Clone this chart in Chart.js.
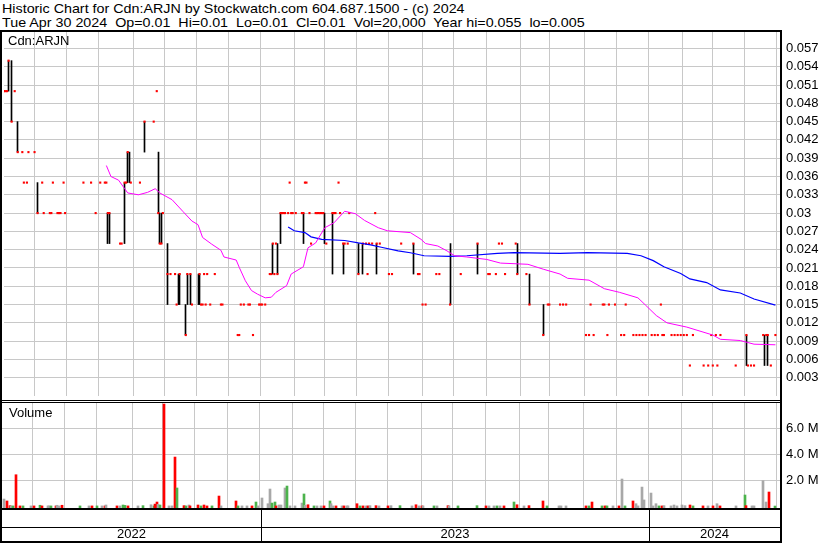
<!DOCTYPE html>
<html>
<head>
<meta charset="utf-8">
<script src="https://cdn.jsdelivr.net/npm/chart.js@4.4.1/dist/chart.umd.min.js"></script>
<style>
  body { margin: 0; background: #fff; font-family: Arial, "Liberation Sans", sans-serif; }
  #wrap { position: relative; width: 830px; height: 543px; overflow: hidden; }
  .txt { position: absolute; font-size: 13px; line-height: 14px; white-space: pre; color: #000; }
  .hdr { transform: scaleX(1.1); transform-origin: 0 0; }
  .ln { position: absolute; background: #000; }
  canvas { position: absolute; left: 0; }
</style>
</head>
<body>
<div id="wrap">
  <div class="txt hdr" style="left:2px; top:2px;">Historic Chart for Cdn:ARJN by Stockwatch.com 604.687.1500 - (c) 2024</div>
  <div class="txt hdr" style="left:2px; top:16px;">Tue Apr 30 2024  Op=0.01  Hi=0.01  Lo=0.01  Cl=0.01  Vol=20,000  Year hi=0.055  lo=0.005</div>
  <canvas id="price" width="830" height="400" style="top:0"></canvas>
  <canvas id="volume" width="830" height="105" style="top:403px"></canvas>
  <div class="txt" style="left:8px; top:34px;">Cdn:ARJN</div>
  <div class="txt" style="left:9px; top:406px;">Volume</div>
  <div class="ln" style="left:0; top:30px; width:782px; height:2px;"></div>
  <div class="ln" style="left:0; top:30px; width:2px; height:513px;"></div>
  <div class="ln" style="left:780px; top:30px; width:2px; height:513px;"></div>
  <div class="ln" style="left:0; top:400px; width:782px; height:1px;"></div>
  <div class="ln" style="left:0; top:402px; width:782px; height:1px;"></div>
  <div class="ln" style="left:0; top:508px; width:782px; height:2px;"></div>
  <div class="ln" style="left:0; top:527px; width:782px; height:1px;"></div>
  <div class="ln" style="left:0; top:541px; width:782px; height:2px;"></div>
  <div id="years"></div>
</div>
<script>
Chart.defaults.font.family = "Arial, 'Liberation Sans', sans-serif";

// x axis = trading day index, day 0 = 2 May 2022
const monthStart = [20, 41, 62, 85, 105, 126, 147, 168, 190, 210, 231, 252, 274, 294, 316, 338, 357, 380, 401, 422, 444, 464, 485, 506];
const yearStart = [0, 168, 422];
const yearLabel = ["2022", "2023", "2024"];
const lastDay = 508;

const priceTicks = [0.003, 0.006, 0.009, 0.012, 0.015, 0.018, 0.021, 0.024, 0.027, 0.03,
  0.033, 0.036, 0.039, 0.042, 0.045, 0.048, 0.051, 0.054, 0.057];
const volTicks = [2000000, 4000000, 6000000];

// high / low bars
const barDay = [3, 5, 9, 22, 68, 69, 79, 81, 82, 92, 101, 102, 103, 107, 114, 115, 119, 120, 122, 127, 128,
  176, 179, 181, 196, 210, 215, 222, 232, 235, 244, 268, 292, 310, 336, 344, 353, 486, 498, 500];
const barLow = [0.05, 0.045, 0.04, 0.03, 0.025, 0.025, 0.025, 0.035, 0.035, 0.04, 0.03, 0.025, 0.025, 0.015, 0.015, 0.015, 0.01, 0.015, 0.015, 0.015, 0.015,
  0.02, 0.02, 0.025, 0.025, 0.025, 0.02, 0.02, 0.02, 0.02, 0.02, 0.02, 0.015, 0.02, 0.02, 0.015, 0.01, 0.005, 0.005, 0.005];
const barHigh = [0.055, 0.055, 0.045, 0.035, 0.03, 0.03, 0.035, 0.04, 0.04, 0.045, 0.04, 0.03, 0.03, 0.025, 0.02, 0.02, 0.015, 0.02, 0.02, 0.02, 0.02,
  0.025, 0.025, 0.03, 0.03, 0.03, 0.03, 0.025, 0.025, 0.025, 0.025, 0.025, 0.025, 0.025, 0.025, 0.02, 0.015, 0.01, 0.01, 0.01];

// closing prices
const closeDay = [0, 1, 2, 3, 5, 7, 9, 12, 13, 15, 16, 20, 22, 25, 26, 30, 31, 32, 35, 36, 37, 39, 40, 52, 57, 60,
  63, 66, 67, 68, 69, 76, 77, 79, 80, 81, 83, 89, 92, 98, 100, 101, 102, 103, 104, 107, 109, 112, 113, 115,
  119, 120, 122, 123, 128, 129, 130, 131, 132, 133, 135, 138, 142, 143, 153, 154, 155, 157, 160, 161, 163,
  167, 168, 169, 171, 174, 175, 176, 177, 178, 179, 181, 182, 183, 184, 186, 187, 188, 189, 191, 195, 196,
  197, 198, 200, 201, 204, 205, 206, 207, 208, 209, 211, 215, 216, 217, 219, 220, 222, 223, 225, 226, 232,
  235, 237, 238, 239, 241, 243, 244, 246, 252, 254, 260, 268, 271, 272, 274, 276, 283, 285, 292, 299, 310,
  317, 318, 322, 324, 326, 328, 335, 336, 342, 344, 353, 356, 357, 364, 366, 368, 381, 383, 384, 386, 392,
  393, 395, 396, 400, 404, 406, 407, 412, 414, 416, 418, 420, 424, 426, 428, 430, 431, 432, 437, 439, 441,
  443, 445, 447, 449, 451, 458, 461, 463, 464, 466, 467, 469, 479, 486, 487, 489, 491, 497, 499, 500, 502, 505];
const closePrice = [0.05, 0.05, 0.05, 0.055, 0.045, 0.05, 0.04, 0.04, 0.035, 0.035, 0.04, 0.04, 0.03, 0.035, 0.03, 0.03, 0.03, 0.035, 0.03, 0.03, 0.03, 0.035, 0.03, 0.035, 0.035, 0.03,
  0.035, 0.035, 0.035, 0.03, 0.03, 0.025, 0.025, 0.035, 0.035, 0.04, 0.035, 0.035, 0.045, 0.045, 0.05, 0.03, 0.025, 0.025, 0.03, 0.02, 0.02, 0.02, 0.015, 0.02,
  0.01, 0.02, 0.02, 0.015, 0.02, 0.015, 0.015, 0.02, 0.015, 0.02, 0.015, 0.02, 0.015, 0.015, 0.01, 0.01, 0.015, 0.015, 0.015, 0.015, 0.01,
  0.015, 0.015, 0.015, 0.015, 0.02, 0.02, 0.025, 0.02, 0.025, 0.02, 0.03, 0.03, 0.03, 0.03, 0.03, 0.035, 0.03, 0.03, 0.03, 0.03, 0.03,
  0.035, 0.035, 0.03, 0.025, 0.03, 0.03, 0.03, 0.03, 0.03, 0.03, 0.025, 0.03, 0.03, 0.03, 0.035, 0.03, 0.025, 0.025, 0.025, 0.03, 0.02,
  0.025, 0.025, 0.02, 0.025, 0.025, 0.03, 0.025, 0.025, 0.02, 0.02, 0.025, 0.025, 0.02, 0.02, 0.015, 0.015, 0.02, 0.02, 0.015, 0.02, 0.025,
  0.02, 0.02, 0.02, 0.025, 0.025, 0.02, 0.025, 0.02, 0.02, 0.015, 0.01, 0.015, 0.015, 0.015, 0.015, 0.015, 0.01, 0.01, 0.015, 0.01, 0.015,
  0.015, 0.01, 0.015, 0.015, 0.01, 0.01, 0.015, 0.01, 0.01, 0.01, 0.01, 0.01, 0.01, 0.01, 0.01, 0.015, 0.01, 0.01, 0.01, 0.01, 0.01,
  0.01, 0.01, 0.01, 0.005, 0.01, 0.005, 0.005, 0.01, 0.005, 0.01, 0.005, 0.01, 0.005, 0.01, 0.005, 0.005, 0.005, 0.01, 0.01, 0.01, 0.005, 0.01];

// moving averages
const fastMaDay = [67, 70, 75, 79, 81, 88, 94, 99, 102, 110, 117, 123, 127, 130, 136, 142, 144, 152, 154, 158, 162, 166, 171, 175, 178, 185, 188,
  196, 199, 204, 210, 216, 223, 230, 236, 245, 251, 266, 273, 276, 284, 290, 295, 303, 316, 325, 343, 353, 364, 369, 383, 393, 403, 415, 420,
  427, 434, 447, 464, 469, 482, 491, 505];
const fastMaValue = [0.0378, 0.036, 0.0354, 0.034, 0.0333, 0.033, 0.0334, 0.034, 0.0333, 0.0322, 0.0303, 0.0287, 0.0281, 0.026, 0.0249, 0.0239, 0.0228,
  0.0223, 0.0211, 0.0189, 0.0173, 0.0167, 0.0161, 0.0162, 0.017, 0.0181, 0.02, 0.0212, 0.0243, 0.0251, 0.0276, 0.0284, 0.0303, 0.0299, 0.0288,
  0.0276, 0.0271, 0.0268, 0.0257, 0.025, 0.0246, 0.0238, 0.023, 0.0228, 0.0224, 0.0218, 0.0216, 0.0208, 0.02, 0.0193, 0.019, 0.0176, 0.017,
  0.0161, 0.0149, 0.0132, 0.012, 0.0113, 0.01, 0.0093, 0.0091, 0.0085, 0.0084];
const slowMaDay = [186, 190, 197, 201, 208, 223, 232, 240, 247, 258, 266, 275, 292, 303, 323, 334, 364, 382, 408, 417, 425, 432, 443, 449, 460,
  469, 482, 491, 505];
const slowMaValue = [0.0277, 0.0271, 0.0268, 0.0261, 0.0257, 0.0255, 0.0251, 0.0248, 0.0244, 0.0238, 0.0235, 0.023, 0.0229, 0.023, 0.0234,
  0.0235, 0.0234, 0.0235, 0.0234, 0.023, 0.0222, 0.0212, 0.0201, 0.0192, 0.0186, 0.0174, 0.0169, 0.0159, 0.0149];

// volume (shares) and direction of the day: 1 up, -1 down, 0 unchanged
const volDay = [1, 3, 5, 6, 7, 9, 12, 14, 19, 21, 25, 26, 30, 31, 32, 35, 36, 37, 39, 51, 57, 59, 62, 65, 67, 68, 75, 77, 79, 80, 82, 89,
  92, 97, 99, 100, 101, 102, 103, 106, 109, 111, 113, 114, 119, 120, 122, 123, 128, 130, 132, 134, 137, 142, 143, 153, 154, 157, 160, 163,
  166, 167, 170, 174, 175, 176, 178, 179, 181, 182, 185, 186, 188, 191, 196, 197, 198, 200, 204, 206, 208, 210, 214, 215, 216, 218, 222,
  223, 225, 226, 232, 234, 236, 238, 239, 240, 244, 246, 252, 254, 260, 268, 270, 272, 274, 275, 282, 284, 291, 292, 298, 310, 316, 318,
  321, 323, 325, 328, 334, 336, 341, 344, 353, 356, 364, 365, 368, 381, 383, 385, 392, 394, 395, 399, 403, 405, 407, 412, 414, 415, 418,
  419, 424, 425, 427, 429, 431, 432, 437, 439, 441, 444, 446, 449, 451, 458, 461, 464, 467, 469, 479, 485, 486, 490, 491, 497, 499, 501, 505];
const volValue = [560000, 410000, 50000, 30000, 30000, 2430000, 30000, 30000, 30000, 30000, 80000, 30000, 30000, 30000, 30000, 30000, 80000, 30000,
  80000, 30000, 30000, 30000, 30000, 30000, 30000, 100000, 30000, 30000, 100000, 70000, 30000, 30000,
  50000, 120000, 30000, 170000, 330000, 150000, 100000, 7870000, 30000, 30000, 3790000, 1410000, 50000, 30000, 100000, 30000, 100000, 30000,
  100000, 30000, 30000, 790000, 30000, 410000, 30000, 30000, 30000, 30000,
  330000, 30000, 640000, 200000, 1330000, 250000, 330000, 30000, 100000, 100000, 1410000, 1560000, 30000, 30000, 250000, 950000, 80000,
  120000, 30000, 30000, 30000, 30000, 410000, 200000, 30000, 30000, 30000,
  30000, 30000, 30000, 200000, 30000, 30000, 30000, 30000, 50000, 50000, 30000, 30000, 50000, 50000, 30000, 120000, 30000, 30000, 30000,
  30000, 30000, 50000, 30000, 30000, 50000, 30000, 30000,
  30000, 30000, 30000, 30000, 330000, 120000, 30000, 50000, 410000, 30000, 30000, 30000, 30000, 30000, 30000, 330000, 30000, 30000, 30000,
  30000, 30000, 2100000, 30000, 410000, 200000, 30000, 1480000,
  490000, 1020000, 30000, 200000, 30000, 30000, 50000, 30000, 100000, 30000, 100000, 50000, 100000, 30000, 30000, 30000, 30000, 200000,
  30000, 30000, 870000, 50000, 30000, 30000, 1970000, 330000, 1100000, 20000];
const volDir = [0, -1, -1, 0, 1, -1, -1, 1, 0, -1, 1, -1, 0, 0, 1, -1, 0, 0, -1, 1, 0, -1, 1, 0, -1, 0, -1, 0, 1, 1, -1, 0,
  1, 0, 1, -1, -1, 0, 1, -1, 0, 0, -1, 1, -1, 1, 0, -1, -1, 1, -1, -1, 1, -1, 0, -1, 1, 0, 0, -1,
  1, 0, 0, 0, 0, 1, 1, -1, 0, 0, 0, 1, 0, 0, 0, 1, 0, -1, 1, 0, 0, -1, 1, 0, 0, -1, 0,
  -1, 0, 0, -1, 1, -1, 0, -1, 0, -1, 0, -1, 0, 1, 0, -1, 0, -1, 0, 1, 0, -1, 0, 1, 1, -1, 0,
  0, 1, 0, -1, 1, -1, 0, -1, -1, 1, 0, 0, 0, -1, 1, -1, 1, -1, 1, 0, -1, 0, 1, -1, 0, 0, 0,
  0, 0, 0, 0, 1, -1, 0, 0, 0, 0, 0, 0, -1, 1, -1, 0, -1, 0, -1, 0, 1, -1, 0, 0, 0, 0, -1, 1];

const GRID = "#c8c8c8";
const dirColor = (d) => (d > 0 ? "#4cb34c" : d < 0 ? "#ff0000" : "#a8a8a8");

// put the thin bars on whole pixels so they stay crisp
const snapBars = {
  id: "snapBars",
  afterDatasetsUpdate(chart) {
    chart.data.datasets.forEach((ds, i) => {
      const meta = chart.getDatasetMeta(i);
      if (meta.type !== "bar") return;
      meta.data.forEach((el) => {
        const w = el.width;
        el.x = Math.round(el.x - w / 2) + w / 2;
      });
    });
  },
};

// x axis shared by both panels: month grid lines only
function monthAxis() {
  return {
    type: "linear",
    min: 0,
    max: lastDay,
    offset: false,
    grid: { color: GRID, drawTicks: false, offset: false },
    border: { display: false },
    ticks: { display: false },
    afterBuildTicks: (s) => { s.ticks = monthStart.map((v) => ({ value: v })); },
    afterFit: (s) => { s.height = 0; s.paddingLeft = 0; s.paddingRight = 0; },
  };
}

function rightAxis(min, max, ticks, fmt) {
  return {
    position: "right",
    min: min,
    max: max,
    grid: { color: GRID, drawTicks: false },
    border: { display: false },
    ticks: { padding: 6, color: "#000", font: { size: 13 }, autoSkip: false, callback: fmt },
    afterBuildTicks: (s) => { s.ticks = ticks.map((v) => ({ value: v })); },
    afterFit: (s) => { s.width = 50; s.paddingTop = 0; s.paddingBottom = 0; },
  };
}

const baseOptions = {
  responsive: false,
  animation: false,
  devicePixelRatio: 1,
  plugins: { legend: { display: false }, tooltip: { enabled: false } },
};

const priceChart = new Chart(document.getElementById("price"), {
  type: "bar",
  plugins: [snapBars],
  data: {
    datasets: [
      {
        type: "line",
        data: fastMaDay.map((d, i) => ({ x: d, y: fastMaValue[i] })),
        borderColor: "#ff00ff",
        borderWidth: 1,
        pointRadius: 0,
        tension: 0,
        order: 0,
      },
      {
        type: "line",
        data: slowMaDay.map((d, i) => ({ x: d, y: slowMaValue[i] })),
        borderColor: "#0000ff",
        borderWidth: 1.2,
        pointRadius: 0,
        tension: 0,
        order: 0,
      },
      {
        type: "scatter",
        data: closeDay.map((d, i) => ({ x: d, y: closePrice[i] })),
        backgroundColor: "#ff0000",
        borderWidth: 0,
        pointStyle: "rect",
        pointRadius: 1.5,
        order: 1,
      },
      {
        type: "bar",
        data: barDay.map((d, i) => ({ x: d, y: [barLow[i], barHigh[i]] })),
        backgroundColor: "#000000",
        barThickness: 1,
        order: 2,
      },
    ],
  },
  options: {
    ...baseOptions,
    layout: { padding: { left: 2, top: 32, right: 0, bottom: 0 } },
    scales: {
      x: monthAxis(),
      y: rightAxis(0, 0.0597, priceTicks, (v) => String(+v.toFixed(3))),
    },
  },
});

const volMin = -130000;
const volumeChart = new Chart(document.getElementById("volume"), {
  type: "bar",
  plugins: [snapBars],
  data: {
    datasets: [
      {
        data: volDay.map((d, i) => ({ x: d, y: volValue[i] })),
        backgroundColor: volDir.map(dirColor),
        barThickness: 2,
        base: volMin,
      },
    ],
  },
  options: {
    ...baseOptions,
    layout: { padding: { left: 2, top: 0, right: 0, bottom: 0 } },
    scales: {
      x: monthAxis(),
      y: rightAxis(volMin, 7950000, volTicks, (v) => (v / 1000000).toFixed(1) + " M"),
    },
  },
});

// year band under the volume panel
const xs = priceChart.scales.x;
const years = document.getElementById("years");
yearStart.forEach((d, i) => {
  const left = i === 0 ? 2 : Math.round(xs.getPixelForValue(d));
  const right = i + 1 < yearStart.length ? Math.round(xs.getPixelForValue(yearStart[i + 1])) : 780;
  if (i > 0) {
    const sep = document.createElement("div");
    sep.className = "ln";
    sep.style.cssText = `left:${left}px; top:510px; width:1px; height:31px;`;
    years.appendChild(sep);
  }
  const lab = document.createElement("div");
  lab.className = "txt";
  lab.textContent = yearLabel[i];
  lab.style.cssText = `left:${left}px; width:${right - left}px; top:527px; text-align:center;`;
  years.appendChild(lab);
});
</script>
</body>
</html>
